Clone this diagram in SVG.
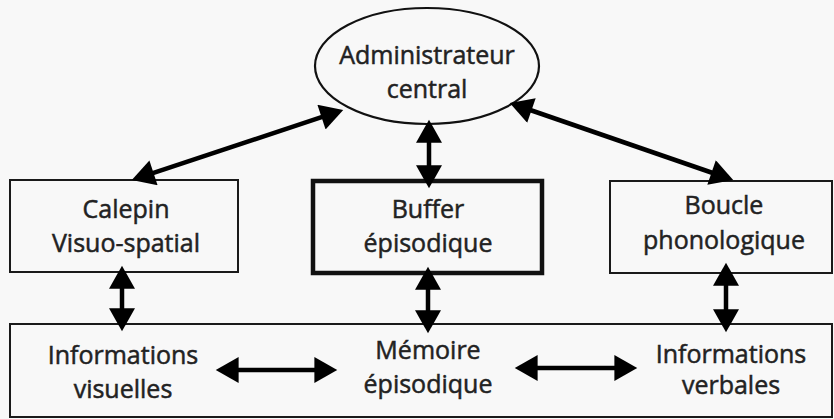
<svg xmlns="http://www.w3.org/2000/svg" width="834" height="419" viewBox="0 0 834 419">
<style>
.box{fill:#f8f8f8;stroke:#1a1a1a;stroke-width:2}
.thick{fill:#f8f8f8;stroke:#111;stroke-width:4.5}
.t{font-family:"Open Sans","Liberation Sans",sans-serif;font-size:25px;fill:#222;stroke:#222;stroke-width:0.5;text-anchor:middle}
.arr{stroke:#000;stroke-width:4.5;fill:none;marker-start:url(#ah);marker-end:url(#ah)}
</style>
<defs>
<marker id="ah" markerUnits="userSpaceOnUse" markerWidth="24" markerHeight="26" refX="16" refY="12.5" orient="auto-start-reverse" viewBox="0 0 22 25">
<path d="M0,0 L22,12.5 L0,25 z" fill="#000"/>
</marker>
</defs>
<rect width="834" height="419" fill="#f8f8f8"/>
<g id="admin">
<ellipse cx="427" cy="66" rx="112" ry="58" fill="#f8f8f8" stroke="#111" stroke-width="2.2"/>
<text class="t" x="427" y="64">Administrateur</text>
<text class="t" x="427" y="98">central</text>
</g>
<g id="calepin">
<rect class="box" x="10" y="180" width="228" height="92"/>
<text class="t" x="126" y="218">Calepin</text>
<text class="t" x="126" y="252">Visuo-spatial</text>
</g>
<g id="buffer">
<rect class="thick" x="313" y="181" width="229" height="92"/>
<text class="t" x="428" y="218">Buffer</text>
<text class="t" x="428" y="252">épisodique</text>
</g>
<g id="boucle">
<rect class="box" x="610" y="181" width="222" height="92"/>
<text class="t" x="724" y="214">Boucle</text>
<text class="t" x="724" y="249">phonologique</text>
</g>
<g id="memoire">
<rect class="box" x="10" y="324" width="822" height="93"/>
<text class="t" x="123" y="364">Informations</text>
<text class="t" x="123" y="398">visuelles</text>
<text class="t" x="428" y="359">Mémoire</text>
<text class="t" x="428" y="393">épisodique</text>
<text class="t" x="731" y="363">Informations</text>
<text class="t" x="731" y="394">verbales</text>
</g>
<g id="connectors">
<line class="arr" x1="137.7" y1="178.1" x2="337.3" y2="111.9"/>
<line class="arr" x1="515.7" y1="105" x2="727.3" y2="178"/>
<line class="arr" x1="429" y1="126" x2="429" y2="182"/>
<line class="arr" x1="122" y1="272" x2="122" y2="325"/>
<line class="arr" x1="428" y1="273" x2="428" y2="327"/>
<line class="arr" x1="726" y1="269" x2="726" y2="326"/>
<line class="arr" x1="222" y1="370" x2="331" y2="370"/>
<line class="arr" x1="521" y1="368" x2="631" y2="368"/>
</g>
</svg>
